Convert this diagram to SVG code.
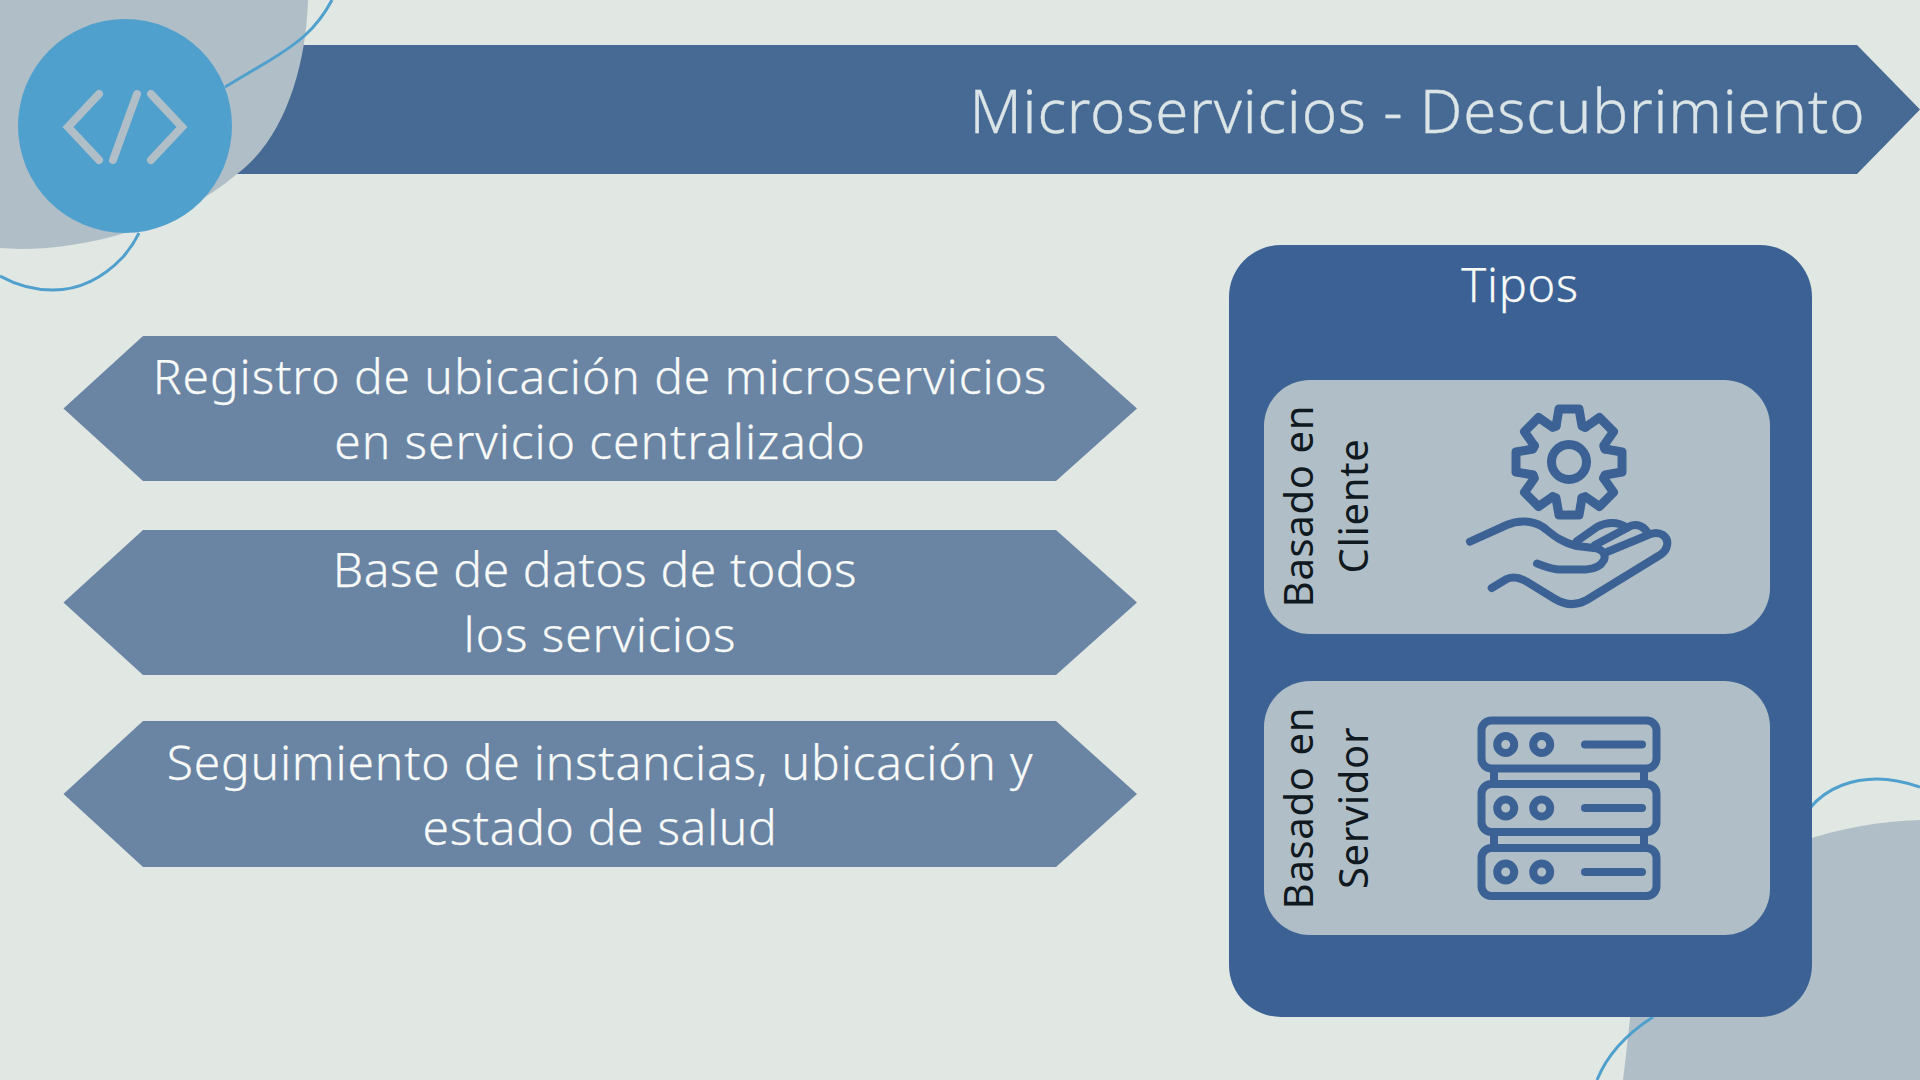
<svg xmlns="http://www.w3.org/2000/svg" width="1920" height="1080" viewBox="0 0 1920 1080">
<style>
.t{font-family:"Noto Sans","Open Sans",sans-serif;text-anchor:middle;font-weight:300}
.a{font-size:48px;fill:#f8faf8;letter-spacing:.92px;stroke:#f8faf8;stroke-width:.25}
.v{font-size:40px;fill:#101820;letter-spacing:.65px;font-weight:400}
.c{fill:none;stroke:#50a0ce;stroke-width:3}
.i{fill:none;stroke:#3c6295;stroke-width:8;stroke-linecap:round;stroke-linejoin:round}
.ar{fill:#6a84a4}
.card{fill:#b0bfc7}
</style>
<defs>
<path id="tooth" d="M-13,-36 L-10,-53 H10 L13,-36 L16.3,-34.6"/>
<g id="unit">
<rect x="1481.500" y="0" width="175" height="48" rx="10"/>
<circle cx="1505.700" cy="24" r="8.500"/>
<circle cx="1541.700" cy="24" r="8.500"/>
<path d="M1585,24 H1642"/>
</g>
</defs>
<rect width="1920" height="1080" fill="#e1e7e3"/>
<g id="banner">
<path d="M230,45 H1857 L1920,109.500 L1857,174 H230 Z" fill="#466a94"/>
<text class="t" x="1417.500" y="133" font-size="60" fill="#dbe4e6" letter-spacing=".83" stroke="#dbe4e6" stroke-width=".3">Microservicios - Descubrimiento</text>
</g>
<g id="decor">
<path d="M1623,1080 C1628,1040 1630,1017 1632,1000 L1800,842 C1840,828 1880,821 1920,820 V1080 Z" fill="#b0bfc7"/>
<path class="c" d="M1597,1080 C1607,1055 1628,1033 1653,1017"/>
<path class="c" d="M1810,808 C1828,786 1855,779 1877,779 C1895,779 1908,783 1920,787"/>
<path d="M0,0 H308 C306,70 283,140 237,174 C175,226 90,249 20,249 L0,248 Z" fill="#b0bfc7"/>
<path class="c" d="M332,0 C316,30 297,44 267,62 L225,87"/>
<path class="c" d="M0,276 C18,286 35,290 53,290 C82,290 104,277 123,257 C130,249 135,241 139,233"/>
</g>
<g id="logo">
<circle cx="125" cy="126" r="107" fill="#50a0ce"/>
<path d="M99,94 L68,127 L99,160 M137,94 L113,160 M151,94 L182,127 L151,160" fill="none" stroke="#b0bfc7" stroke-width="8" stroke-linecap="round" stroke-linejoin="miter"/>
</g>
<g id="item1">
<path class="ar" d="M63.500,408.500 L143,336 H1056 L1137,408.500 L1056,481 H143 Z"/>
<text class="t a" x="600" y="393.500">Registro de ubicación de microservicios</text>
<text class="t a" x="600" y="458.500">en servicio centralizado</text>
</g>
<g id="item2">
<path class="ar" d="M63.500,602.500 L143,530 H1056 L1137,602.500 L1056,675 H143 Z"/>
<text class="t a" x="595" y="587" style="letter-spacing:.59px">Base de datos de todos</text>
<text class="t a" x="600" y="652">los servicios</text>
</g>
<g id="item3">
<path class="ar" d="M63.500,794 L143,721 H1056 L1137,794 L1056,867 H143 Z"/>
<text class="t a" x="600" y="780" style="letter-spacing:.78px">Seguimiento de instancias, ubicación y</text>
<text class="t a" x="600" y="845" style="letter-spacing:.66px">estado de salud</text>
</g>
<g id="tipos">
<rect x="1229" y="245" width="583" height="772" rx="52" fill="#3c6295"/>
<text class="t" x="1520" y="302" font-size="47" fill="#f8faf8" letter-spacing=".7" stroke="#f8faf8" stroke-width=".25">Tipos</text>
</g>
<g id="cliente">
<rect class="card" x="1264" y="380" width="506" height="254" rx="46"/>
<text class="t v" transform="translate(1313,506) rotate(-90)">Basado en</text>
<text class="t v" transform="translate(1368,506) rotate(-90)">Cliente</text>
<g class="i" transform="translate(1569,462)" style="stroke-width:9">
<circle r="17.500"/>
<use href="#tooth"/><use href="#tooth" transform="rotate(45)"/><use href="#tooth" transform="rotate(90)"/><use href="#tooth" transform="rotate(135)"/><use href="#tooth" transform="rotate(180)"/><use href="#tooth" transform="rotate(225)"/><use href="#tooth" transform="rotate(270)"/><use href="#tooth" transform="rotate(315)"/>
</g>
<path class="i" d="M1470,541.700 L1506.700,525 C1518,520 1532,520 1543,527 C1552,534 1560,542 1576.700,546 L1594,548 C1603,549 1606,555 1604,560 C1601,566 1595,569 1586,569.500 L1560,569.500 C1552,569.500 1544,566 1537,563.500"/>
<path class="i" d="M1491.700,588 L1506.700,579 C1512,576.500 1519,577 1526.700,581.700 L1555,599 C1565,605 1576,606 1586.700,600 L1660,555 C1668,550 1670,540 1663,535 C1658,532 1652,533 1648,535 L1607,552"/>
<path class="i" d="M1577,541 L1597,527 C1606,522 1618,521 1627,528 L1595,545 M1627,528 C1634,523 1642,524 1648,533"/>
</g>
<g id="servidor">
<rect class="card" x="1264" y="681" width="506" height="254" rx="46"/>
<text class="t v" transform="translate(1313,808) rotate(-90)">Basado en</text>
<text class="t v" transform="translate(1368,808) rotate(-90)">Servidor</text>
<g class="i">
<use href="#unit" transform="translate(0,720.500)"/>
<use href="#unit" transform="translate(0,784)"/>
<use href="#unit" transform="translate(0,848)"/>
<path style="stroke-linecap:butt" d="M1494,772 V781 M1644,772 V781 M1494,835 V844 M1644,835 V844"/>
</g>
</g>
</svg>
